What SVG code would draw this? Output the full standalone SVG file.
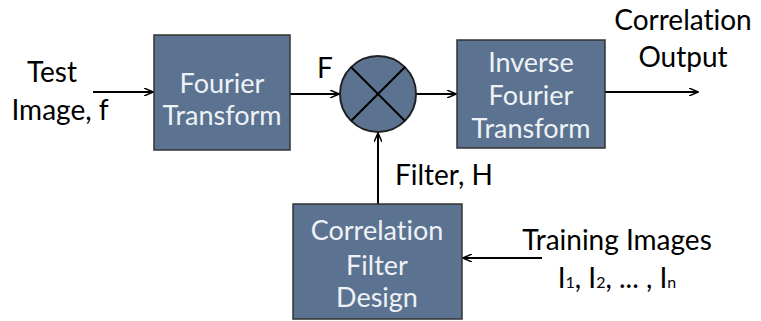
<svg xmlns="http://www.w3.org/2000/svg" width="761" height="321" viewBox="0 0 761 321">
<defs>
<marker id="ah" markerWidth="10" markerHeight="8" refX="9" refY="4" orient="auto" markerUnits="userSpaceOnUse">
<path d="M0,0 L9,4 L0,8" fill="none" stroke="#000" stroke-width="1.5"/>
</marker>
<style>
.box{fill:#5b7391;stroke:#333;stroke-width:1.5}
.bt{font-family:Lato,"Open Sans",sans-serif;font-size:27px;fill:#eef2f6;text-anchor:middle;font-variant-ligatures:none}
.lt{font-family:Lato,"Open Sans",sans-serif;font-size:28px;fill:#000;font-variant-ligatures:none}
.c{stroke:#000;stroke-width:2;fill:none}
</style>
</defs>
<rect width="761" height="321" fill="#fff"/>
<g id="connectors">
<line class="c" x1="93" y1="92" x2="153" y2="92" marker-end="url(#ah)"/>
<line class="c" x1="290" y1="94" x2="339" y2="94" marker-end="url(#ah)"/>
<line class="c" x1="417" y1="94" x2="456" y2="94" marker-end="url(#ah)"/>
<line class="c" x1="605" y1="92" x2="698" y2="92" marker-end="url(#ah)"/>
<line class="c" x1="378" y1="204" x2="378" y2="133" marker-end="url(#ah)"/>
<line class="c" x1="542" y1="258" x2="463" y2="258" marker-end="url(#ah)"/>
</g>
<g id="test-image">
<text class="lt" x="52" y="82" text-anchor="middle">Test</text>
<text class="lt" x="60" y="120" text-anchor="middle">Image, f</text>
</g>
<g id="fourier">
<rect class="box" x="154" y="35" width="136" height="115"/>
<text class="bt" x="222" y="93">Fourier</text>
<text class="bt" x="222" y="125">Transform</text>
</g>
<g id="f-label"><text class="lt" x="317" y="78">F</text></g>
<g id="multiplier">
<circle cx="378" cy="94" r="38" fill="#5b7391" stroke="#222" stroke-width="2"/>
<line x1="351" y1="67" x2="405" y2="121" stroke="#000" stroke-width="2"/>
<line x1="405" y1="67" x2="351" y2="121" stroke="#000" stroke-width="2"/>
</g>
<g id="inverse">
<rect class="box" x="457" y="40" width="148" height="108"/>
<text class="bt" x="531" y="72">Inverse</text>
<text class="bt" x="531" y="105">Fourier</text>
<text class="bt" x="531" y="138">Transform</text>
</g>
<g id="output">
<text class="lt" x="683" y="30" text-anchor="middle">Correlation</text>
<text class="lt" x="683" y="67" text-anchor="middle">Output</text>
</g>
<g id="filter-label"><text class="lt" x="395" y="185">Filter, H</text></g>
<g id="filter-design">
<rect class="box" x="293" y="204" width="169" height="115"/>
<text class="bt" x="377" y="240">Correlation</text>
<text class="bt" x="377" y="275">Filter</text>
<text class="bt" x="377" y="307">Design</text>
</g>
<g id="training">
<text class="lt" x="617" y="250" text-anchor="middle">Training Images</text>
<text class="lt" x="617" y="288" text-anchor="middle">I<tspan font-size="16">1</tspan>, I<tspan font-size="16">2</tspan>, ... , I<tspan font-size="16">n</tspan></text>
</g>
</svg>
